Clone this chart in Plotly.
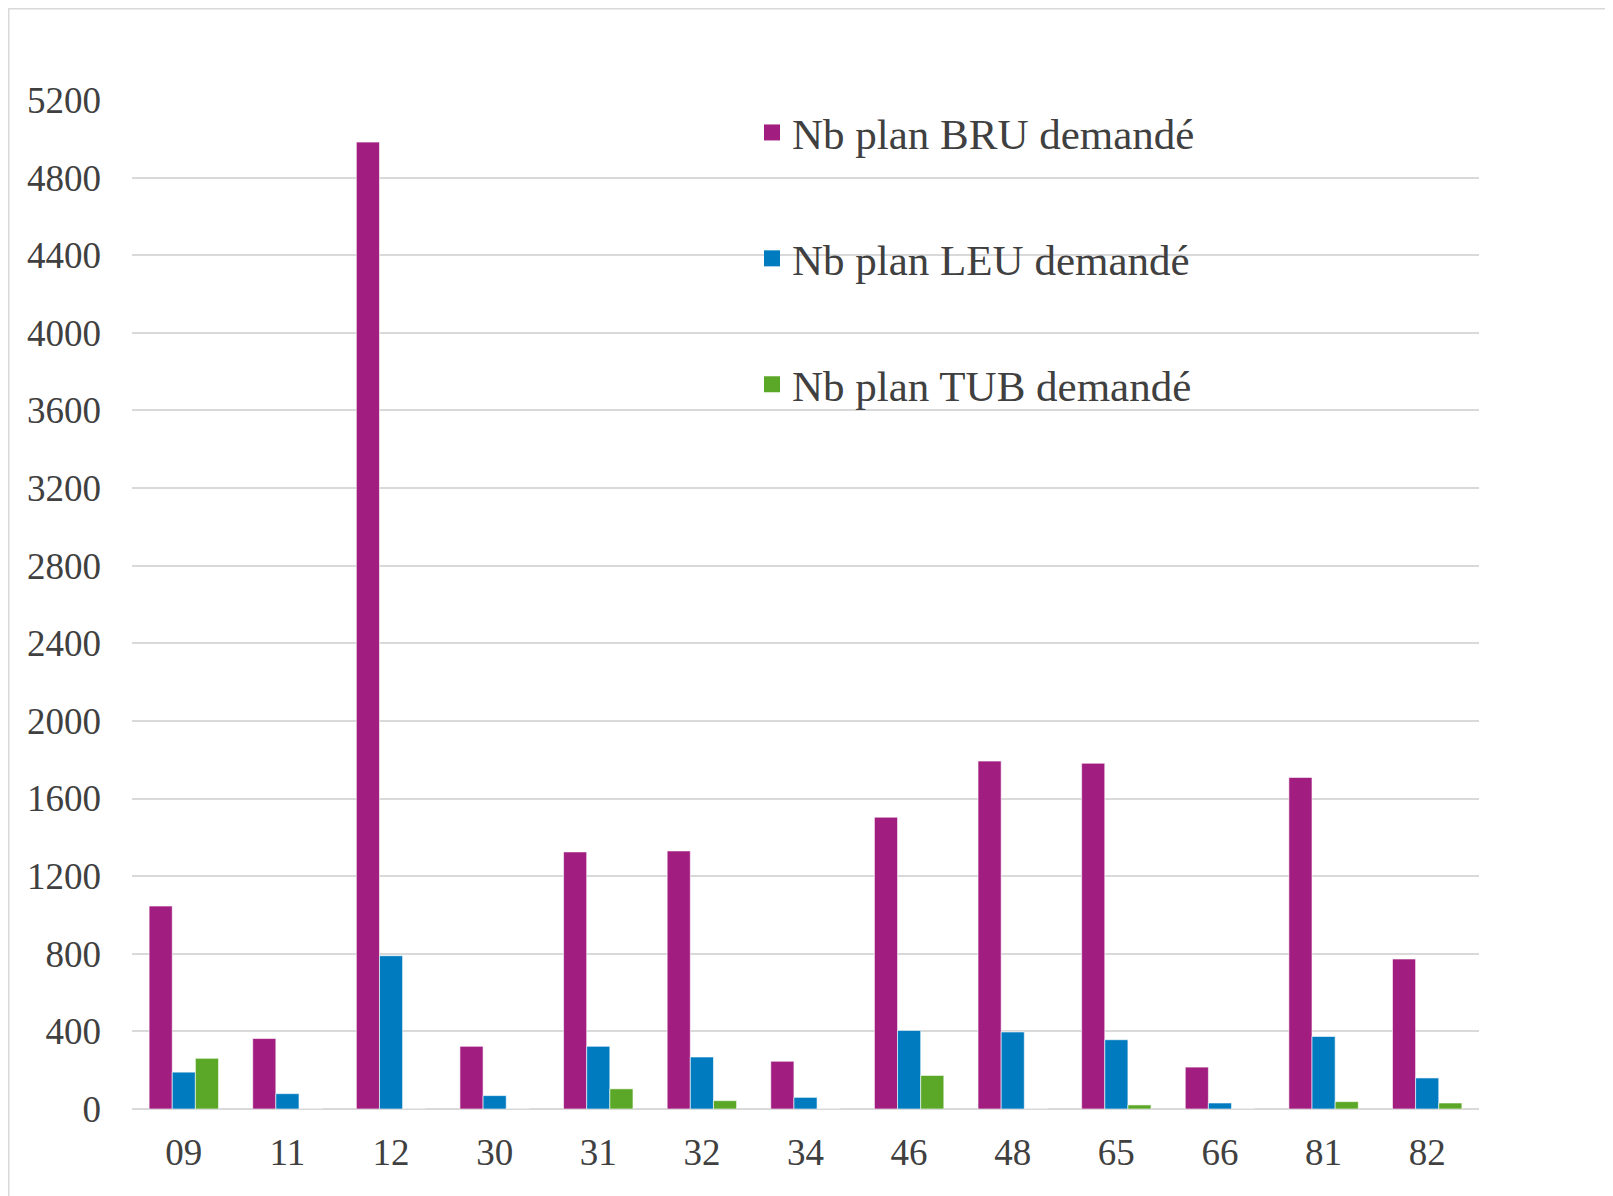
import plotly.graph_objects as go

categories = ["09", "11", "12", "30", "31", "32", "34", "46", "48", "65", "66", "81", "82"]
bru = [1046, 363, 4983, 323, 1325, 1330, 246, 1504, 1793, 1782, 216, 1709, 773]
leu = [190, 79, 790, 69, 323, 268, 60, 405, 397, 357, 31, 374, 160]
tub = [261, 0, 0, 0, 104, 43, 0, 173, 0, 21, 0, 38, 31]
series_names = ["Nb plan BRU demandé", "Nb plan LEU demandé", "Nb plan TUB demandé"]
colors = ["#A11D80", "#007BC0", "#5BA829"]
y_ticks = list(range(0, 5201, 400))

W, H = 1613, 1196
L, R, T, B = 124, 142, 92, 95
pw, ph = W - L - R, H - T - B

fig = go.Figure()
for i, (name, vals, col) in enumerate(zip(series_names, [bru, leu, tub], colors)):
    fig.add_trace(go.Bar(
        x=categories, y=vals, name=name,
        marker=dict(color=col, line=dict(color="rgba(255,255,255,0.6)", width=1)),
        showlegend=False,
    ))
# legend entries (square swatches)
for i, (name, col) in enumerate(zip(series_names, colors)):
    fig.add_trace(go.Scatter(
        x=[None], y=[None], mode="markers", name=name,
        marker=dict(symbol="square", size=16, color=col),
        legendgroup=f"g{i}", showlegend=True, hoverinfo="skip",
    ))

def px_x(x):
    return (x - L) / pw

def px_y(y):
    return 1 - (y - T) / ph

fig.add_shape(type="rect", xref="paper", yref="paper",
              x0=px_x(0.5), x1=px_x(1601), y0=px_y(1220), y1=px_y(0.5),
              line=dict(color="#d9d9d9", width=2), fillcolor="rgba(0,0,0,0)", layer="below")

fig.update_layout(
    width=W, height=H,
    margin=dict(l=L, r=R, t=T, b=B, pad=0),
    paper_bgcolor="white", plot_bgcolor="white",
    barmode="group", bargap=0.33, bargroupgap=0,
    font=dict(family="Liberation Serif, Times New Roman, serif", size=37, color="#404040"),
    legend=dict(
        x=px_x(744), y=px_y(90), xanchor="left", yanchor="top",
        font=dict(size=43, color="#404040"),
        traceorder="grouped", tracegroupgap=67, itemsizing="trace",
        bgcolor="rgba(0,0,0,0)", borderwidth=0,
    ),
    showlegend=True,
)
fig.update_xaxes(
    type="category", showgrid=False, showline=False, zeroline=False,
    ticks="", ticklabelstandoff=18, tickfont=dict(size=37, color="#404040"),
)
fig.update_yaxes(
    range=[0, 5200], tickvals=y_ticks, ticktext=[str(v) for v in y_ticks],
    showgrid=True, gridcolor="#d9d9d9", gridwidth=2,
    zeroline=True, zerolinecolor="#d9d9d9", zerolinewidth=2,
    showline=False, ticks="", ticklabelstandoff=30,
    tickfont=dict(size=37, color="#404040"),
)

fig.write_html("out.html")
